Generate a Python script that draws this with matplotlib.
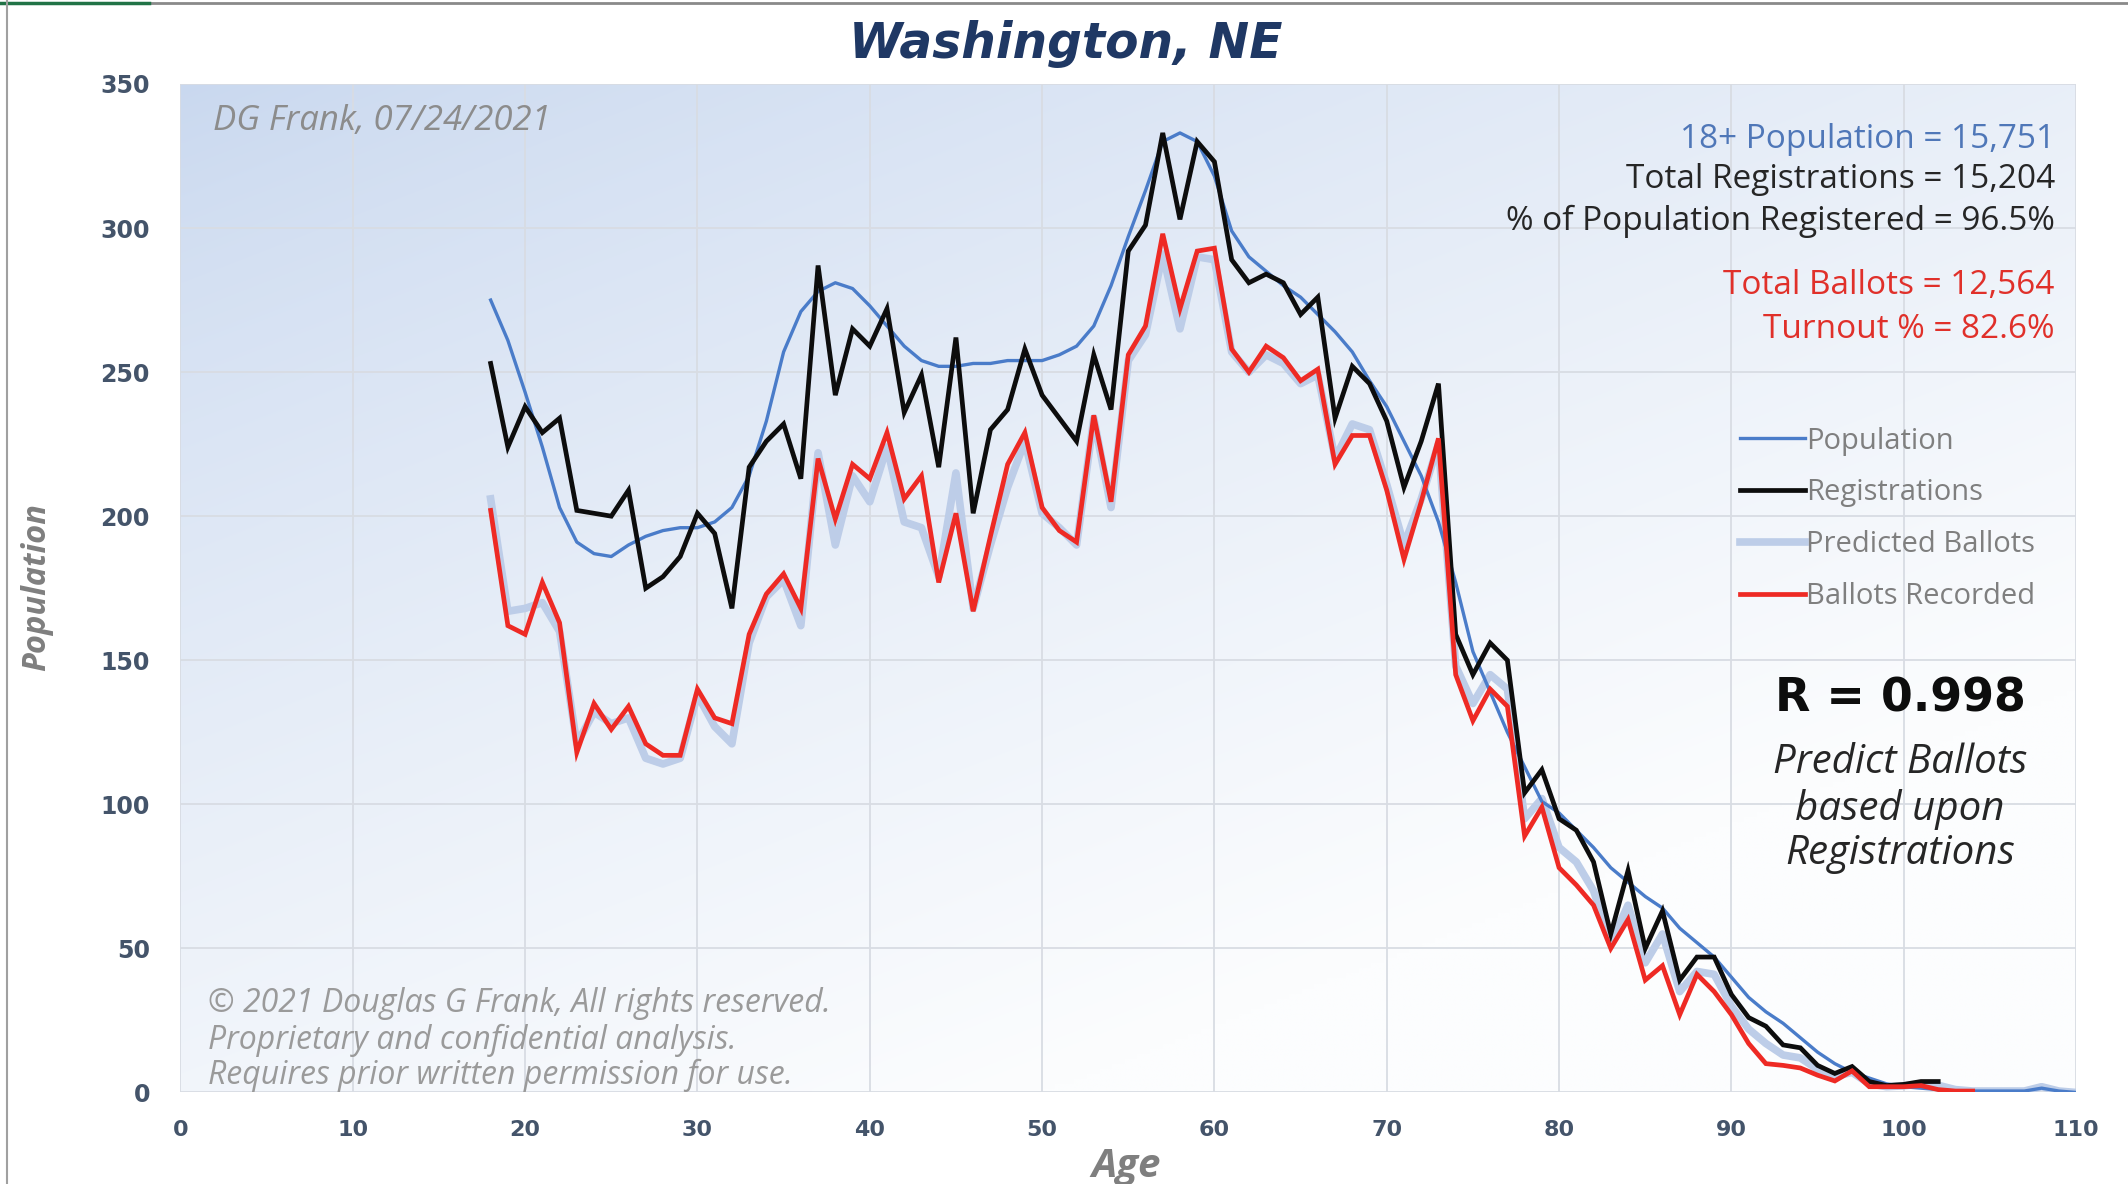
import numpy as np
import matplotlib
matplotlib.use("Agg")
import matplotlib.pyplot as plt
from matplotlib.lines import Line2D

# ---------------- data ----------------
pop_ages = list(range(18, 111))
population = [275, 261, 243, 224, 203, 191, 187, 186, 190, 193,
              195, 196, 196, 198, 203, 214, 233, 257, 271, 278,
              281, 279, 273, 266, 259, 254, 252, 252, 253, 253,
              254, 254, 254, 256, 259, 266, 280, 297, 313, 330,
              333, 330, 318, 299, 290, 285, 280, 276, 270, 264,
              257, 247, 238, 226, 214, 198, 177, 153, 139, 125,
              113, 101, 97, 91, 85, 78, 73, 68, 64, 57,
              52, 47, 40, 33, 28, 24, 19, 14, 10, 7,
              5, 3, 2, 1.5, 1, 0.5, 0.5, 0.5, 0.5, 0.5,
              1.5, 0.5, 0]

reg_ages = list(range(18, 103))
registrations = [253, 224, 238, 229, 234, 202, 201, 200, 209, 175,
                 179, 186, 201, 194, 168, 217, 226, 232, 213, 287,
                 242, 265, 259, 272, 236, 249, 217, 262, 201, 230,
                 237, 258, 242, 234, 226, 256, 237, 292, 301, 333,
                 303, 330, 323, 289, 281, 284, 281, 270, 276, 234,
                 252, 246, 233, 210, 226, 246, 159, 145, 156, 150,
                 104, 112, 95, 91, 80, 55, 77, 50, 63, 39,
                 47, 47, 34, 26, 23, 16.5, 15.5, 9.4, 6.6, 9,
                 3.8, 2.4, 2.8, 3.8, 3.8]

pred_ages = list(range(18, 111))
predicted = [206, 167, 168, 170, 160, 121, 132, 128, 130, 116,
             114, 116, 138, 127, 121, 156, 172, 178, 162, 222,
             190, 214, 205, 224, 198, 196, 179, 215, 168, 190,
             210, 226, 201, 196, 190, 234, 203, 254, 263, 291,
             265, 290, 289, 257, 250, 256, 253, 246, 249, 220,
             232, 230, 211, 190, 206, 225, 148, 135, 145, 140,
             95, 102, 85, 80, 70, 52, 65, 45, 55, 35,
             42, 41, 30, 22, 17, 13, 12, 8, 5.5, 7,
             3, 2, 2.3, 3.0, 2.5, 1, 0.5, 0.5, 0.5, 0.5,
             2, 0.5, 0]

bal_ages = list(range(18, 105))
ballots = [202, 162, 159, 177, 163, 118, 135, 126, 134, 121,
           117, 117, 140, 130, 128, 159, 173, 180, 168, 220,
           199, 218, 213, 229, 206, 214, 177, 201, 167, 193,
           218, 229, 203, 195, 191, 235, 205, 256, 266, 298,
           272, 292, 293, 258, 250, 259, 255, 247, 251, 218,
           228, 228, 209, 185, 205, 227, 145, 129, 140, 134,
           89, 99, 78, 72, 65, 50, 60, 39, 44, 27,
           41, 35, 27, 17, 10, 9.4, 8.5, 6, 4, 7.5,
           2, 2, 2, 2.4, 1, 0.5, 0.5]

x_ticks = [0, 10, 20, 30, 40, 50, 60, 70, 80, 90, 100, 110]
y_ticks = [0, 50, 100, 150, 200, 250, 300, 350]

title = "Washington, NE"
stats_lines = [("18+ Population = 15,751", "#4F77B8"),
               ("Total Registrations = 15,204", "#262626"),
               ("% of Population Registered = 96.5%", "#262626"),
               ("Total Ballots = 12,564", "#E0302A"),
               ("Turnout % = 82.6%", "#E0302A")]
legend_labels = ["Population", "Registrations", "Predicted Ballots", "Ballots Recorded"]

# ---------------- figure ----------------
W, H = 2128, 1184
fig = plt.figure(figsize=(W / 100, H / 100), dpi=100, facecolor="white")
ax = fig.add_axes([0.0848, 0.0773, 0.8908, 0.8518])

# gradient background for plot area
ny, nx = 200, 300
gx = np.linspace(0, 1, nx)[None, :]
gy = np.linspace(1, 0, ny)[:, None]   # top row = 1
t = np.clip(0.55 * gx + 0.75 * (1 - gy), 0, 1)
t = t ** 0.8
c0 = np.array([201, 216, 239]) / 255.0
c1 = np.array([252, 253, 254]) / 255.0
img = c0[None, None, :] * (1 - t[..., None]) + c1[None, None, :] * t[..., None]
ax.imshow(img, extent=[0, 1, 0, 1], transform=ax.transAxes, aspect="auto",
          zorder=0, interpolation="bilinear")

ax.set_xlim(0, 110)
ax.set_ylim(0, 350)
ax.set_xticks(x_ticks)
ax.set_yticks(y_ticks)
ax.grid(True, color="#D8DCE3", lw=1.3)
ax.set_axisbelow(True)
for s in ax.spines.values():
    s.set_visible(False)
ax.tick_params(length=0, colors="#44546A")
ax.tick_params(axis="y", pad=22)
ax.tick_params(axis="x", pad=20)
for lab in ax.get_yticklabels():
    lab.set_fontfamily("DejaVu Sans"); lab.set_fontweight("bold"); lab.set_fontsize(17)
for lab in ax.get_xticklabels():
    lab.set_fontfamily("DejaVu Sans"); lab.set_fontweight("bold"); lab.set_fontsize(16)

l_pop, = ax.plot(pop_ages, population, color="#4A7CC9", lw=2.4, zorder=3, solid_joinstyle="round")
l_reg, = ax.plot(reg_ages, registrations, color="#0D0D0D", lw=3.4, zorder=4, solid_joinstyle="miter")
l_pred, = ax.plot(pred_ages, predicted, color="#BDCDE8", lw=5.5, zorder=2.5, solid_joinstyle="round")
l_bal, = ax.plot(bal_ages, ballots, color="#EE2A24", lw=3.4, zorder=5, solid_joinstyle="miter")

leg = fig.legend([l_pop, l_reg, l_pred, l_bal], legend_labels,
                 loc="upper left", bbox_to_anchor=(0.8110, 0.652),
                 frameon=False, borderpad=0, handlelength=2.2, handletextpad=0.05,
                 labelspacing=0.78,
                 prop={"family": "Open Sans", "size": 21})
for txt in leg.get_texts():
    txt.set_color("#7F7F7F")

# texts
fig.text(0.5006, 0.963, title, ha="center", va="center", fontsize=35,
         family="DejaVu Sans", fontweight="bold", fontstyle="italic", color="#1F3864")

stat_y = [0.8819, 0.8486, 0.8131, 0.7592, 0.7213]
for (s, c), yy in zip(stats_lines, stat_y):
    fig.text(0.9656, yy, s, ha="right", va="center", fontsize=24,
             family="Open Sans", color=c)

fig.text(0.1001, 0.898, "DG Frank, 07/24/2021", ha="left", va="center", fontsize=25,
         family="Open Sans", fontstyle="italic", color="#8C8C8C")

copy_lines = ["\u00a9 2021 Douglas G Frank, All rights reserved.",
              "Proprietary and confidential analysis.",
              "Requires prior written permission for use."]
for s, yy in zip(copy_lines, [0.1525, 0.1216, 0.0917]):
    fig.text(0.0976, yy, s, ha="left", va="center", fontsize=23,
             family="Open Sans", fontstyle="italic", color="#9A9A9A")

fig.text(0.8929, 0.4094, "R = 0.998", ha="center", va="center", fontsize=33,
         family="DejaVu Sans", fontweight="bold", color="#0D0D0D")
for s, yy in zip(["Predict Ballots", "based upon", "Registrations"], [0.3555, 0.3165, 0.2787]):
    fig.text(0.8929, yy, s, ha="center", va="center", fontsize=29,
             family="Open Sans", fontstyle="italic", color="#262626")

fig.text(0.0172, 0.5046, "Population", ha="center", va="center", rotation=90, fontsize=23.5,
         family="Open Sans", fontweight="bold", fontstyle="italic", color="#7F7F7F")
fig.text(0.5293, 0.015, "Age", ha="center", va="center", fontsize=29,
         family="Open Sans", fontweight="bold", fontstyle="italic", color="#7F7F7F")

# screenshot frame edges
fig.add_artist(Line2D([0, 1], [0.9975, 0.9975], transform=fig.transFigure, color="#8A8A8A", lw=2))
fig.add_artist(Line2D([0, 0.07], [0.9975, 0.9975], transform=fig.transFigure, color="#217346", lw=2.5))
fig.add_artist(Line2D([0.0033, 0.0033], [0, 1], transform=fig.transFigure, color="#A0A0A0", lw=1.5))

fig.savefig("out.png", dpi=100, facecolor="white")
